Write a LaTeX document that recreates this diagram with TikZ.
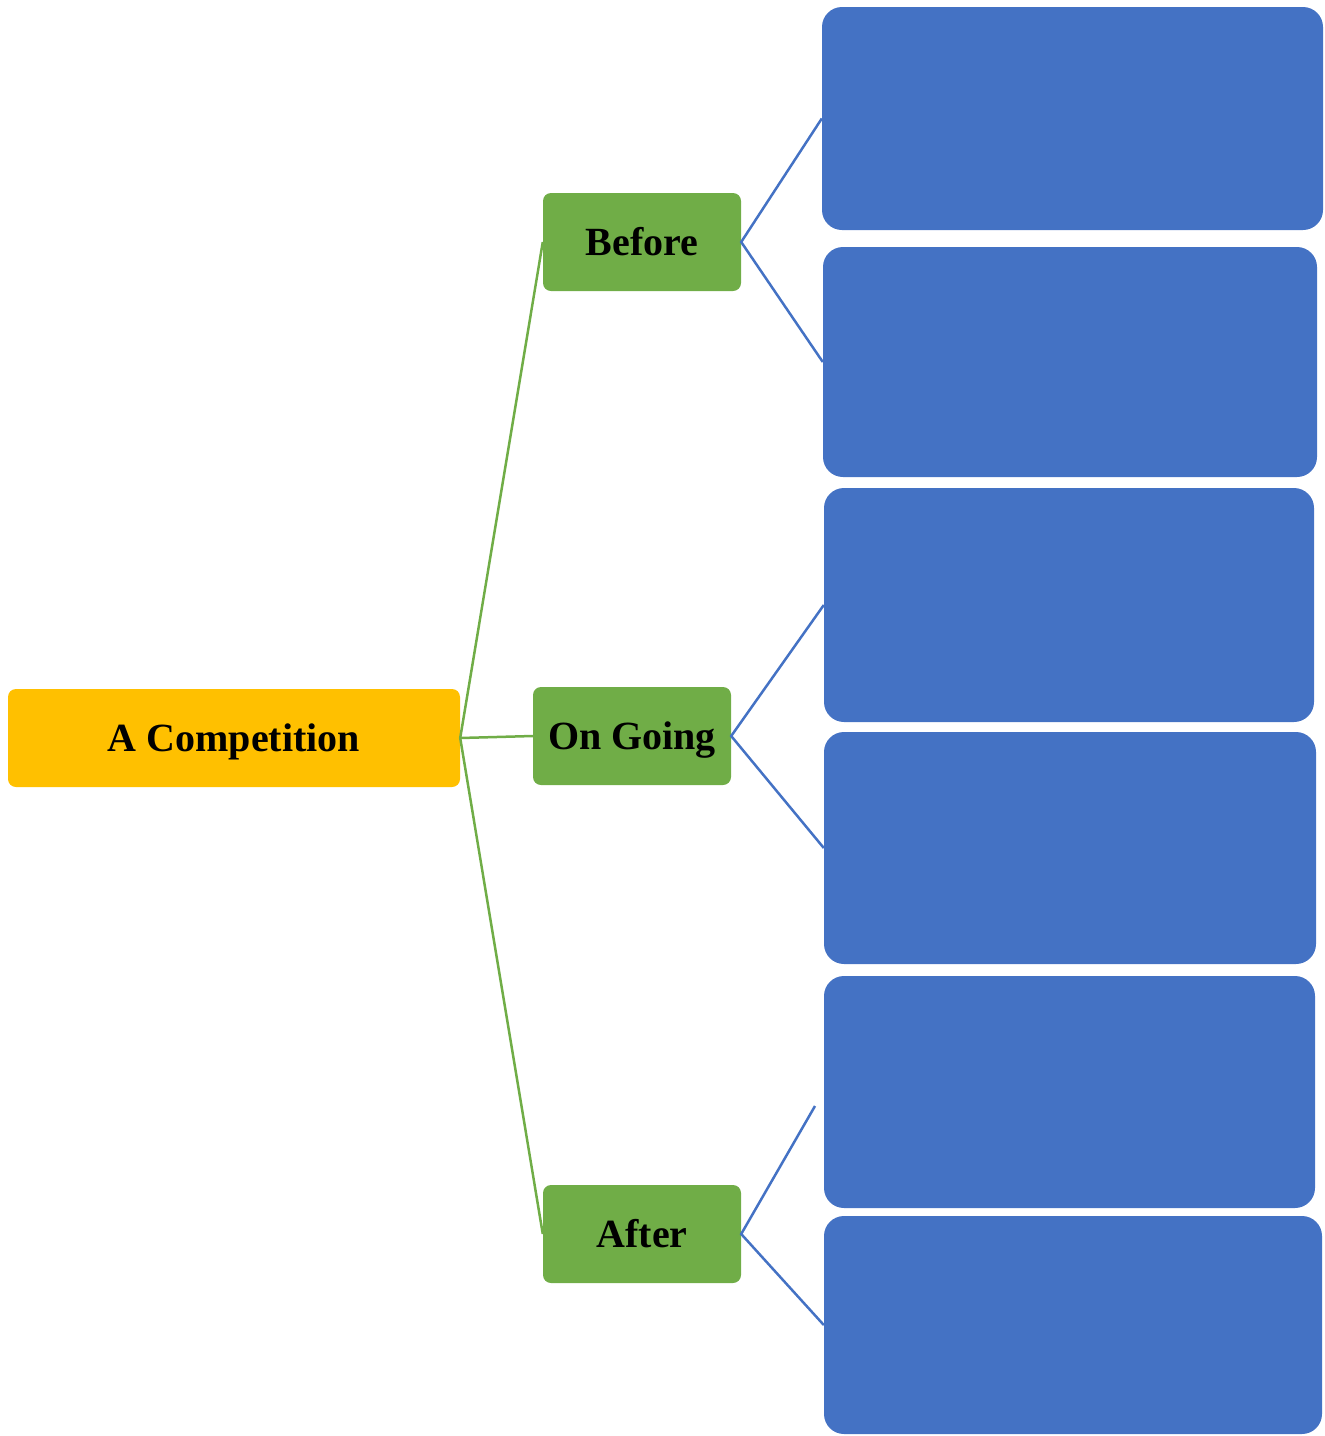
\documentclass[tikz,border=0pt]{standalone}
\usepackage{fontspec}
\setmainfont{Liberation Serif}
\definecolor{rootfill}{HTML}{FFC000}
\definecolor{phasefill}{HTML}{70AD47}
\definecolor{itemfill}{HTML}{4472C4}
\begin{document}
\begin{tikzpicture}[x=1pt,y=-1pt,
  labeltext/.style={font=\fontsize{40}{48}\selectfont\bfseries,
    text height=26pt,text depth=0pt},
  rootbox/.style={labeltext,fill=rootfill,rounded corners=8pt,inner sep=0pt,
    minimum width=452pt,minimum height=98pt},
  phasebox/.style={labeltext,fill=phasefill,rounded corners=8pt,inner sep=0pt,
    minimum width=198pt,minimum height=98pt},
  itembox/.style={fill=itemfill,rounded corners=20pt,inner sep=0pt},
  phaselink/.style={draw=phasefill,line width=2.5pt},
  itemlink/.style={draw=itemfill,line width=2.5pt}]
\useasboundingbox (0,0) rectangle (1325,1436);

% root and phases
\node[rootbox] (root) at (234,738) {A Competition};
\node[phasebox] (before) at (642,242) {Before};
\node[phasebox] (ongoing) at (632,736) {On Going};
\node[phasebox] (after) at (642,1234) {After};

% empty item boxes
\node[itembox,minimum width=501pt,minimum height=223pt] (b1) at (1072.5,118.5) {};
\node[itembox,minimum width=494pt,minimum height=230pt] (b2) at (1070,362) {};
\node[itembox,minimum width=490pt,minimum height=234pt] (b3) at (1069,605) {};
\node[itembox,minimum width=492pt,minimum height=232pt] (b4) at (1070,848) {};
\node[itembox,minimum width=491pt,minimum height=232pt] (b5) at (1069.5,1092) {};
\node[itembox,minimum width=498pt,minimum height=218pt] (b6) at (1073,1325) {};

\coordinate (b5in) at (815,1106);

% connectors
\draw[phaselink] (root.east) -- (before.west);
\draw[phaselink] (root.east) -- (ongoing.west);
\draw[phaselink] (root.east) -- (after.west);

\draw[itemlink] (b1.west) -- (before.east) -- (b2.west);
\draw[itemlink] (b3.west) -- (ongoing.east) -- (b4.west);
\draw[itemlink] (b5in) -- (after.east) -- (b6.west);
\end{tikzpicture}
\end{document}
